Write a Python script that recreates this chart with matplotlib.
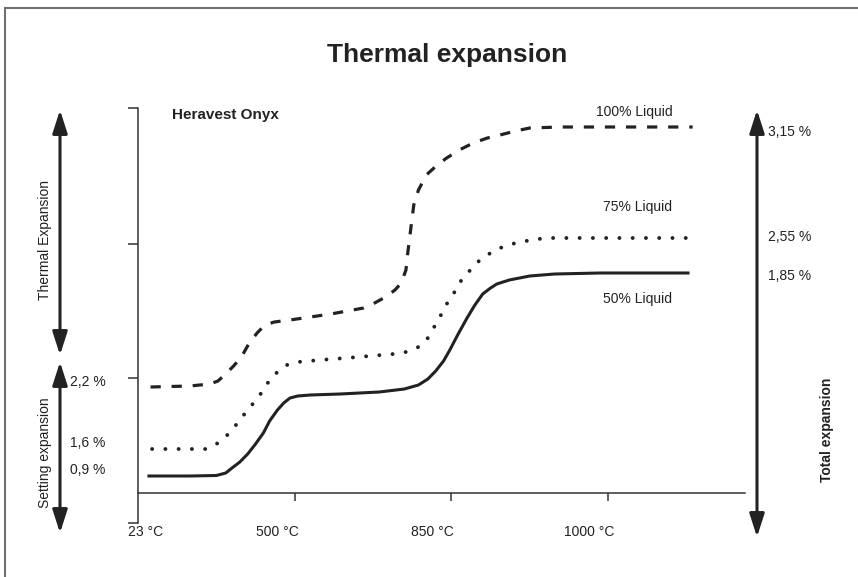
import matplotlib
matplotlib.use("Agg")
import matplotlib.pyplot as plt
from matplotlib.patches import FancyArrowPatch, Rectangle

plt.rcParams['font.family'] = ['Liberation Sans', 'DejaVu Sans']

W, H = 858, 577
INK = '#222222'

# x in temperature-step units (0 = 23 C, 1 = 500 C, 2 = 850 C, 3 = 1000 C)
# y in arbitrary expansion units
x_ticks = [1, 2, 3]
x_labels = ["23 °C", "500 °C", "850 °C", "1000 °C"]
x_label_pos = [0.05, 0.89, 1.88, 2.88]
y_ticks = [0, 1.45, 2.79, 4.15]

liquid50_x = [0.06, 0.33, 0.50, 0.56, 0.60, 0.65, 0.70, 0.75, 0.80, 0.84, 0.89, 0.93, 0.97,
              1.02, 1.10, 1.29, 1.54, 1.70, 1.79, 1.85, 1.90, 1.95, 1.99, 2.04, 2.10, 2.15,
              2.20, 2.25, 2.29, 2.37, 2.50, 2.66, 2.95, 3.52]
liquid50_y = [0.47, 0.47, 0.475, 0.50, 0.55, 0.61, 0.69, 0.79, 0.90, 1.02, 1.13, 1.20, 1.25,
              1.27, 1.28, 1.29, 1.31, 1.34, 1.38, 1.44, 1.52, 1.62, 1.73, 1.88, 2.05, 2.18,
              2.29, 2.35, 2.39, 2.43, 2.47, 2.49, 2.50, 2.50]

liquid75_x = [0.09, 0.43, 0.47, 0.52, 0.57, 0.61, 0.66, 0.71, 0.76, 0.80, 0.84, 0.89, 0.95,
              1.02, 1.16, 1.33, 1.48, 1.63, 1.71, 1.79, 1.85, 1.89, 1.93, 1.97, 2.01, 2.05,
              2.11, 2.16, 2.22, 2.28, 2.36, 2.44, 2.55, 2.65, 3.54]
liquid75_y = [0.74, 0.74, 0.76, 0.81, 0.88, 0.95, 1.05, 1.15, 1.24, 1.33, 1.43, 1.51, 1.58,
              1.61, 1.63, 1.65, 1.67, 1.69, 1.71, 1.76, 1.85, 1.96, 2.07, 2.19, 2.28, 2.40,
              2.51, 2.60, 2.67, 2.73, 2.78, 2.81, 2.84, 2.85, 2.85]

liquid100_x = [0.08, 0.33, 0.46, 0.51, 0.56, 0.61, 0.66, 0.71, 0.76, 0.81, 0.87, 0.97, 1.23,
               1.44, 1.51, 1.58, 1.64, 1.68, 1.71, 1.72, 1.74, 1.76, 1.79, 1.84, 1.91, 1.97,
               2.05, 2.14, 2.23, 2.31, 2.41, 2.50, 2.69, 3.54]
liquid100_y = [1.36, 1.37, 1.39, 1.42, 1.49, 1.57, 1.66, 1.80, 1.90, 1.98, 2.01, 2.03, 2.09,
               2.15, 2.20, 2.26, 2.33, 2.40, 2.53, 2.68, 2.93, 3.18, 3.33, 3.48, 3.58, 3.65,
               3.73, 3.80, 3.85, 3.88, 3.92, 3.95, 3.96, 3.96]

series_names = ["100% Liquid", "75% Liquid", "50% Liquid"]
series_label_y = [4.11, 3.16, 2.24]
left_labels = ["2,2 %", "1,6 %", "0,9 %"]
left_label_py = [382, 443, 470]
right_labels = ["3,15 %", "2,55 %", "1,85 %"]
right_label_py = [132, 237, 276]


def fx(px):
  return px / W


def fy(py):
  return 1 - py / H


fig = plt.figure(figsize=(W / 100, H / 100), dpi=100)
ax = fig.add_axes([fx(138), fy(523), fx(745) - fx(138), fy(108) - fy(523)])
ax.set_xlim(0, 3.874)
ax.set_ylim(0, 4.15)

ax.plot(liquid50_x, liquid50_y, color=INK, lw=2.2, solid_capstyle='butt')
ax.plot(liquid75_x, liquid75_y, color=INK, lw=2.8, linestyle=(0, (0.01, 3.4)),
        dash_capstyle='round')
ax.plot(liquid100_x, liquid100_y, color=INK, lw=2.3, linestyle=(0, (3.2, 3.4)))

# axes frame: left spine with outward ticks, floating bottom spine
for side in ['top', 'right']:
  ax.spines[side].set_visible(False)
ax.spines['left'].set_color('#333333')
ax.spines['left'].set_linewidth(1.1)
ax.spines['bottom'].set_color('#333333')
ax.spines['bottom'].set_linewidth(1.1)
ax.spines['bottom'].set_position(('data', 0.30))
ax.set_yticks(y_ticks)
ax.set_yticklabels([])
ax.set_xticks(x_ticks)
ax.set_xticklabels([])
ax.tick_params(axis='y', direction='out', length=7, width=1.1, color='#333333')
ax.tick_params(axis='x', direction='out', length=6, width=1.1, color='#333333')

for lbl, xp in zip(x_labels, x_label_pos):
  ax.text(xp, -0.09, lbl, ha='center', va='center', fontsize=10, color=INK, clip_on=False)

for name, yp in zip(series_names, series_label_y):
  ax.text(3.41, yp, name, ha='right', va='center', fontsize=10, color=INK)

ax.text(0.22, 4.08, "Heravest Onyx", ha='left', va='center', fontsize=11,
        fontweight='bold', color=INK)

fig.text(fx(447), fy(55), "Thermal expansion", ha='center', va='center',
         fontsize=19, fontweight='bold', color=INK)

for lbl, py in zip(left_labels, left_label_py):
  fig.text(fx(70), fy(py), lbl, ha='left', va='center', fontsize=10, color=INK)
for lbl, py in zip(right_labels, right_label_py):
  fig.text(fx(768), fy(py), lbl, ha='left', va='center', fontsize=10, color=INK)

fig.text(fx(45), fy(240), "Thermal Expansion", rotation=90, ha='center', va='center',
         fontsize=10, color=INK)
fig.text(fx(45), fy(453), "Setting expansion", rotation=90, ha='center', va='center',
         fontsize=10, color=INK)
fig.text(fx(827), fy(430), "Total expansion", rotation=90, ha='center', va='center',
         fontsize=10, fontweight='bold', color=INK)


def arrow(x, y0, y1):
  fig.add_artist(FancyArrowPatch((fx(x), fy(y0)), (fx(x), fy(y1)),
                                 transform=fig.transFigure,
                                 arrowstyle='<|-|>,head_length=1.4,head_width=0.45',
                                 mutation_scale=10, lw=2.2, color=INK,
                                 shrinkA=0, shrinkB=0))


arrow(60, 110, 355)
arrow(60, 362, 533)
arrow(757, 110, 537)

fig.add_artist(Rectangle((fx(5), -0.02), 1.05, fy(8) + 0.02, transform=fig.transFigure,
                         fill=False, edgecolor='#707070', lw=1.5))

fig.savefig("out.png", dpi=100)
